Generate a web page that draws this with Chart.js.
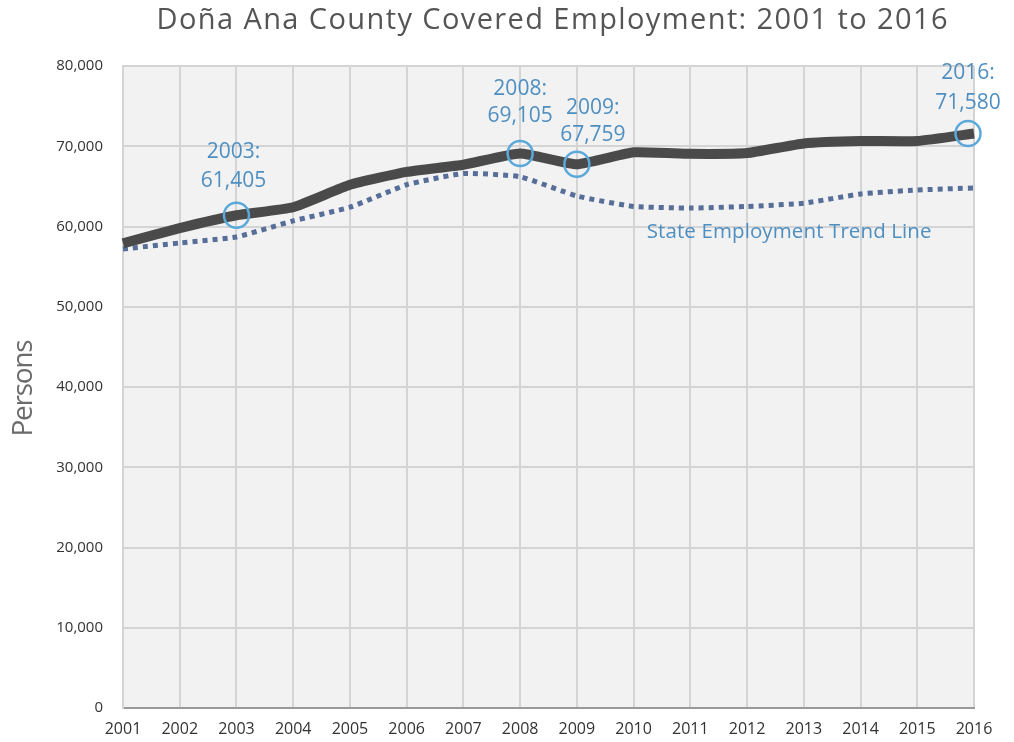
<!DOCTYPE html>
<html><head><meta charset="utf-8">
<script src="https://cdn.jsdelivr.net/npm/chart.js@4/dist/chart.umd.min.js"></script>
<style>html,body{margin:0;padding:0;background:#fff}#wrap{width:1014px;height:742px}</style>
</head><body><div id="wrap"><canvas id="c" width="1014" height="742"></canvas></div>
<script>
const years = ['2001','2002','2003','2004','2005','2006','2007','2008','2009','2010','2011','2012','2013','2014','2015','2016'];
const countyEmployment = [57900, 59800, 61405, 62400, 65200, 66800, 67700, 69105, 67759, 69250, 69050, 69150, 70350, 70650, 70650, 71580];
const stateTrend = [57200, 57950, 58700, 60700, 62400, 65200, 66600, 66200, 63800, 62500, 62300, 62500, 62900, 64050, 64550, 64800];
const yTicks = [0, 10000, 20000, 30000, 40000, 50000, 60000, 70000, 80000];
const highlights = [
  {idx: 2, label: ['2003:', '61,405'], cdx: 0, dx: -3, dy1: -63, dy2: -34},
  {idx: 7, label: ['2008:', '69,105'], cdx: 0, dx: 0, dy1: -64, dy2: -37},
  {idx: 8, label: ['2009:', '67,759'], cdx: 0, dx: 16, dy1: -56, dy2: -29},
  {idx: 15, label: ['2016:', '71,580'], cdx: -6, dx: -6, dy1: -61, dy2: -31}
];
const titleText = 'Doña Ana County Covered Employment: 2001 to 2016';
const stateLabel = 'State Employment Trend Line';
const yTitle = 'Persons';

const FONT = '"Open Sans", Lato, sans-serif';

function spacedText(ctx, text, x, y, target, align) {
  ctx.letterSpacing = '0px';
  const w0 = ctx.measureText(text).width;
  const ls = (target - w0) / Math.max(1, text.length - 1);
  ctx.letterSpacing = ls.toFixed(2) + 'px';
  const sx = align === 'center' ? x - target / 2 : x;
  ctx.textAlign = 'left';
  ctx.fillText(text, sx, y);
  ctx.letterSpacing = '0px';
}

const decor = {
  id: 'decor',
  beforeDraw(chart) {
    const {ctx, chartArea: a} = chart;
    ctx.save();
    ctx.fillStyle = '#f2f2f2';
    ctx.fillRect(a.left, a.top, a.right - a.left, a.bottom - a.top);
    ctx.restore();
  },
  afterDraw(chart) {
    const {ctx} = chart;
    ctx.save();
    ctx.textBaseline = 'alphabetic';
    ctx.fillStyle = '#555555';
    ctx.font = '29px ' + FONT;
    spacedText(ctx, titleText, 552, 29, 791, 'center');
    ctx.save();
    ctx.translate(32, 388);
    ctx.rotate(-Math.PI / 2);
    ctx.fillStyle = '#6b6b6b';
    ctx.font = '28px ' + FONT;
    spacedText(ctx, yTitle, 0, 0, 97, 'center');
    ctx.restore();
    const meta = chart.getDatasetMeta(0);
    highlights.forEach(h => {
      const p = meta.data[h.idx];
      ctx.beginPath();
      ctx.strokeStyle = '#5aa9da';
      ctx.lineWidth = 2.5;
      ctx.arc(p.x + h.cdx, p.y, 12.5, 0, Math.PI * 2);
      ctx.stroke();
      ctx.fillStyle = '#4e8fc2';
      ctx.font = '21px ' + FONT;
      ctx.textAlign = 'center';
      ctx.textBaseline = 'middle';
      ctx.fillText(h.label[0], p.x + h.dx, p.y + h.dy1);
      ctx.fillText(h.label[1], p.x + h.dx, p.y + h.dy2);
    });
    const xs = chart.scales.x, ys = chart.scales.y;
    ctx.fillStyle = '#4e8fc2';
    ctx.font = '20.5px ' + FONT;
    ctx.textBaseline = 'alphabetic';
    spacedText(ctx, stateLabel, xs.getPixelForValue(9.23), ys.getPixelForValue(58570), 285, 'left');
    ctx.restore();
  }
};

new Chart(document.getElementById('c'), {
  type: 'line',
  data: {
    labels: years,
    datasets: [
      {data: countyEmployment, borderColor: '#4a4a4a', borderWidth: 10, pointRadius: 0, tension: 0.15, borderCapStyle: 'butt', borderJoinStyle: 'round', order: 0},
      {data: stateTrend, borderColor: '#566e98', borderWidth: 5, borderDash: [5, 5], pointRadius: 0, tension: 0.15, borderCapStyle: 'butt', order: 1}
    ]
  },
  options: {
    responsive: false,
    animation: false,
    devicePixelRatio: 1,
    layout: {padding: {top: 66, right: 40, left: 0, bottom: 0}},
    plugins: {legend: {display: false}, tooltip: {enabled: false}, title: {display: false}},
    scales: {
      x: {
        grid: {color: '#d4d4d4', lineWidth: 2, drawTicks: false},
        border: {color: '#9a9a9a', width: 2},
        ticks: {color: '#333', font: {family: FONT, size: 16}, padding: 12, maxRotation: 0, autoSkip: false},
        afterFit(s) { s.height = 34; }
      },
      y: {
        min: 0, max: 80000,
        afterBuildTicks(s) { s.ticks = yTicks.map(v => ({value: v})); },
        grid: {color: '#d4d4d4', lineWidth: 2, drawTicks: false},
        border: {color: '#d4d4d4', width: 2},
        ticks: {color: '#333', font: {family: FONT, size: 15}, padding: 20,
          callback: v => v.toLocaleString('en-US')},
        afterFit(s) { s.width = 123; }
      }
    }
  },
  plugins: [decor]
});
</script>
</body></html>
